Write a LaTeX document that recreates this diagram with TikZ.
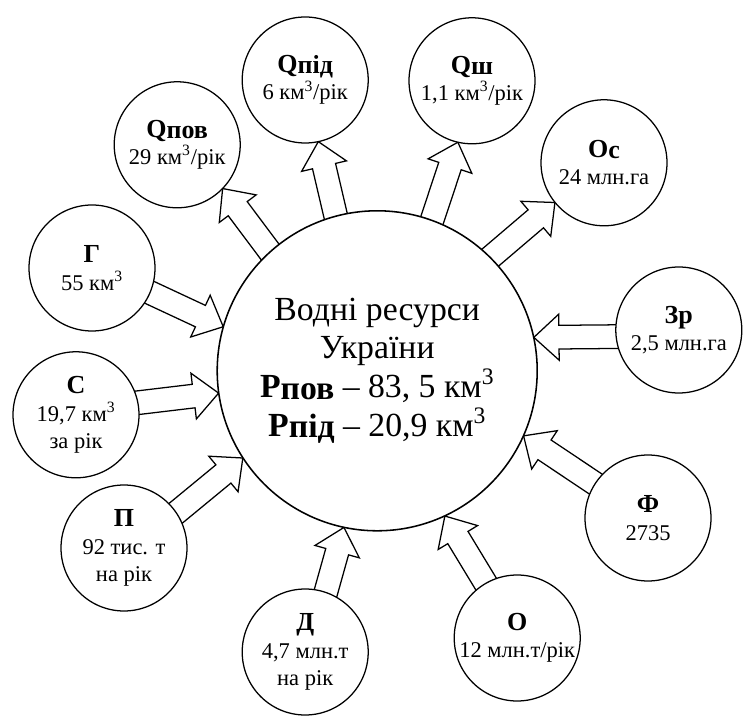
\documentclass[tikz,border=0pt]{standalone}
\usepackage{fontspec}
\setmainfont{Liberation Serif}
\usetikzlibrary{shapes.arrows,calc,backgrounds}

\newcommand{\restitle}[1]{{\fontsize{18.5}{18}\selectfont\bfseries #1}}
\newcommand{\lowidx}[1]{\raisebox{-0.05em}{#1}}
% block arrow from one circle border to another
\newcommand{\flowarrow}[2]{%
  \path let \p1=($(#2)-(#1)$), \n1={atan2(\y1,\x1)}, \n2={veclen(\x1,\y1)+4} in
    node[flow, rotate=\n1, minimum height=\n2, anchor=tail] at ($(#1)!-4pt!(#2)$) {};}

\begin{document}
\begin{tikzpicture}[
    resource/.style={circle, draw, line width=0.9pt, fill=white, minimum size=3.15cm,
      inner sep=0pt, align=center, font=\fontsize{16}{19.5}\selectfont},
    core/.style={circle, draw, line width=1.1pt, fill=white, minimum size=8cm,
      inner sep=0pt, align=center, font=\fontsize{24}{27.5}\selectfont},
    flow/.style={single arrow, draw, line width=0.9pt, fill=white, inner xsep=0pt,
      inner ysep=0.28cm, single arrow head extend=0.28cm, single arrow tip angle=85}]

    \useasboundingbox (0,0) rectangle (18.6,17.9);

    % centre
    \node[core] (hub) at (9.43,8.63)
      {Водні ресурси\\України\\\textbf{Р\lowidx{пов}} – 83, 5 км\textsuperscript{3}\\\textbf{Р\lowidx{під}} – 20,9 км\textsuperscript{3}};

    % outflows
    \node[resource] (qpov) at (4.43,14.28) {\restitle{Q\lowidx{пов}}\\29 км\textsuperscript{3}/рік};
    \node[resource] (qpid) at (7.63,15.90) {\restitle{Q\lowidx{під}}\\6 км\textsuperscript{3}/рік};
    \node[resource] (qsh)  at (11.80,15.88) {\restitle{Q\lowidx{ш}}\\1,1 км\textsuperscript{3}/рік};
    \node[resource] (os)   at (15.10,13.83) {\restitle{О\lowidx{с}}\\24 млн.га};

    % inflows
    \node[resource] (zr) at (16.97,9.65) {\restitle{Зр}\\2,5 млн.га};
    \node[resource] (f)  at (16.20,4.95) {\restitle{Ф}\\2735};
    \node[resource] (o)  at (12.93,1.95) {\restitle{О}\\12 млн.т/рік};
    \node[resource] (d)  at (7.63,1.60)  {\restitle{Д}\\4,7 млн.т\\на рік};
    \node[resource] (p)  at (3.10,4.20)  {\restitle{П}\\92 тис. т\\на рік};
    \node[resource] (s)  at (1.90,7.53)  {\restitle{С}\\19,7 км\textsuperscript{3}\\за рік};
    \node[resource] (g)  at (2.30,11.20) {\restitle{Г}\\55 км\textsuperscript{3}};

    \begin{pgfonlayer}{background}
      \foreach \a/\b in {hub.132/qpov.316, hub.105/qpid.282, hub.70/qsh.257, hub.45/os.219,
          zr.186/hub.12, f.147/hub.336, o.120/hub.295, d.71/hub.258,
          p.34/hub.213, s.11/hub.188, g.337/hub.164}
        \flowarrow{\a}{\b};
    \end{pgfonlayer}

\end{tikzpicture}
\end{document}
